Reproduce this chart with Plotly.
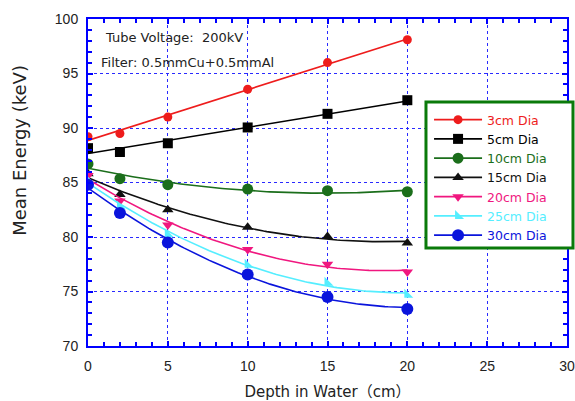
import numpy as np
import plotly.graph_objects as go

# Depths in water (cm) where mean energy was evaluated
depth = [0, 2, 5, 10, 15, 20]

# Mean energy (keV) per phantom diameter
labels = ["3cm Dia", "5cm Dia", "10cm Dia", "15cm Dia", "20cm Dia", "25cm Dia", "30cm Dia"]
e_3cm = [89.2, 89.5, 91.0, 93.55, 96.0, 98.1]
e_5cm = [88.15, 87.8, 88.6, 90.05, 91.3, 92.55]
e_10cm = [86.7, 85.35, 84.8, 84.4, 84.25, 84.15]
e_15cm = [85.8, 83.9, 82.5, 80.9, 80.05, 79.45]
e_20cm = [85.65, 83.3, 81.1, 78.85, 77.5, 76.8]
e_25cm = [85.25, 82.8, 80.25, 77.45, 75.8, 74.7]
e_30cm = [84.8, 82.2, 79.5, 76.55, 74.5, 73.4]

series = [e_3cm, e_5cm, e_10cm, e_15cm, e_20cm, e_25cm, e_30cm]
fit_degree = [1, 1, 2, 2, 2, 2, 2]
colors = ["#ee1c1c", "#000000", "#1b6e1b", "#111111", "#f0177f", "#55eeff", "#0a14dc"]
symbols = ["circle", "square", "circle", "triangle-up", "triangle-down", "triangle-sw", "circle"]
sizes = [9, 10, 11, 10, 10, 10, 12]

TEXT_FONT = "DejaVu Sans, Noto Sans CJK JP"
NUM_FONT = "Liberation Sans, Arial"

fig = go.Figure()
xfit = np.linspace(0, 20, 101)
for name, ys, deg, col, sym, sz in zip(labels, series, fit_degree, colors, symbols, sizes):
    # trend line fitted to the measured points
    coef = np.polyfit(depth, ys, deg)
    fig.add_trace(go.Scatter(x=xfit, y=np.polyval(coef, xfit), mode="lines",
                             line=dict(color=col, width=1.6), showlegend=False,
                             hoverinfo="skip"))
    # measured points
    fig.add_trace(go.Scatter(x=depth, y=ys, mode="markers",
                             marker=dict(color=col, symbol=sym, size=sz),
                             showlegend=False, name=name))
    # legend entry (line + marker)
    fig.add_trace(go.Scatter(x=[None], y=[None], mode="lines+markers",
                             line=dict(color=col, width=1.6),
                             marker=dict(color=col, symbol=sym, size=sz),
                             name=f"<span style='color:{col}'>{name}</span>"))

axis_common = dict(
    showline=True, linecolor="#0000ff", linewidth=2, mirror="ticks",
    ticks="inside", ticklen=5, tickcolor="#0000ff", tickwidth=1.5,
    showgrid=True, gridcolor="#2a2aff", griddash="dot", gridwidth=1,
    zeroline=False, dtick=5, automargin=False,
    minor=dict(dtick=1, ticks="inside", ticklen=4, tickcolor="#0000ff", tickwidth=1.5, showgrid=False),
    tickfont=dict(family=NUM_FONT, size=14, color="#222222"),
)

fig.update_xaxes(range=[0, 30], tick0=0, ticklabelstandoff=6,
                 title=dict(text="Depth in Water\uff08cm\uff09",
                            font=dict(family=TEXT_FONT, size=15, color="#222222"),
                            standoff=16),
                 **axis_common)
fig.update_yaxes(range=[70, 100], tick0=70, ticklabelstandoff=5, **axis_common)

# y-axis title, placed a little above the axis centre
fig.add_annotation(x=-0.142, y=0.6, xref="paper", yref="paper", xanchor="center", yanchor="middle",
                   text="Mean Energy (keV)", textangle=-90, showarrow=False,
                   font=dict(family=TEXT_FONT, size=18, color="#222222"))

fig.add_annotation(x=0.031, y=0.942, xref="paper", yref="paper", xanchor="left", yanchor="middle",
                   text="Tube Voltage:  200kV", showarrow=False,
                   font=dict(family=TEXT_FONT, size=13, color="#222222"))
fig.add_annotation(x=0.023, y=0.868, xref="paper", yref="paper", xanchor="left", yanchor="middle",
                   text="Filter: 0.5mmCu+0.5mmAl", showarrow=False,
                   font=dict(family=TEXT_FONT, size=13, color="#222222"))

# framed white box behind the legend entries
fig.add_shape(type="rect", xref="paper", yref="paper",
              x0=0.7056, x1=1.0125, y0=0.2997, y1=0.7462,
              line=dict(color="#0a7a0a", width=3), fillcolor="white", layer="above")

fig.update_layout(
    width=575, height=401,
    margin=dict(l=88, r=8, t=19, b=55, autoexpand=False),
    paper_bgcolor="white", plot_bgcolor="white",
    showlegend=True,
    legend=dict(x=0.712, y=0.737, xanchor="left", yanchor="top",
                bgcolor="rgba(0,0,0,0)", borderwidth=0,
                font=dict(family=TEXT_FONT, size=12.5),
                itemwidth=48, tracegroupgap=0),
)

fig.write_html("out.html")
